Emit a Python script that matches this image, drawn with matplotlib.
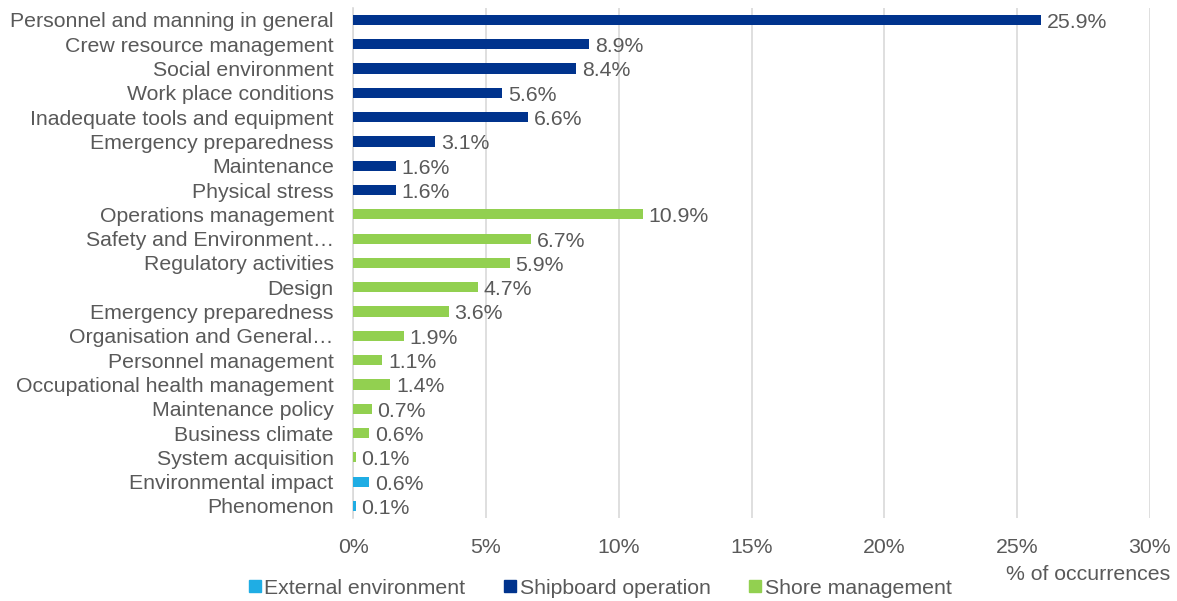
import matplotlib
matplotlib.use("Agg")
import matplotlib.pyplot as plt
from matplotlib.lines import Line2D

plt.rcParams['font.family'] = ['Liberation Sans', 'DejaVu Sans']

shipboard_labels = ["Personnel and manning in general", "Crew resource management",
                    "Social environment", "Work place conditions",
                    "Inadequate tools and equipment", "Emergency preparedness",
                    "Maintenance", "Physical stress"]
shipboard_values = [25.9, 8.9, 8.4, 5.6, 6.6, 3.1, 1.6, 1.6]

shore_labels = ["Operations management", "Safety and Environment\u2026",
                "Regulatory activities", "Design", "Emergency preparedness",
                "Organisation and General\u2026", "Personnel management",
                "Occupational health management", "Maintenance policy",
                "Business climate", "System acquisition"]
shore_values = [10.9, 6.7, 5.9, 4.7, 3.6, 1.9, 1.1, 1.4, 0.7, 0.6, 0.1]

external_labels = ["Environmental impact", "Phenomenon"]
external_values = [0.6, 0.1]

series_names = ["External environment", "Shipboard operation", "Shore management"]
colors = {"External environment": "#1FADE4",
          "Shipboard operation": "#00338D",
          "Shore management": "#92D050"}
xticks = [0, 5, 10, 15, 20, 25, 30]

text_color = "#595959"
fs = 15.3

fig = plt.figure(figsize=(11.77, 6.01), dpi=100)
ax = fig.add_axes([0.300, 0.138, 0.677, 0.849])

groups = [("Shipboard operation", shipboard_labels, shipboard_values),
          ("Shore management", shore_labels, shore_values),
          ("External environment", external_labels, external_values)]

all_labels = []
idx = 0
for name, labels, values in groups:
    pos = list(range(idx, idx + len(values)))
    ax.barh(pos, values, height=0.42, color=colors[name], zorder=3)
    for p, v in zip(pos, values):
        ax.text(v + 0.22, p + 0.1, f"{v:.1f}%", va="center", ha="left",
                fontsize=fs, color=text_color)
    all_labels += labels
    idx += len(values)

ax.set_yticks(range(len(all_labels)))
ax.set_yticklabels(all_labels, fontsize=fs, color=text_color)
ax.set_ylim(len(all_labels) - 0.5, -0.5)
ax.set_xlim(0, 30)
ax.set_xticks(xticks)
ax.set_xticklabels([f"{t}%" for t in xticks], fontsize=fs, color=text_color)
ax.tick_params(axis="y", length=0, pad=14)
ax.tick_params(axis="x", length=0, pad=14)
ax.grid(axis="x", color="#D9D9D9", linewidth=1.2, zorder=0)
for s in ["top", "right", "bottom"]:
    ax.spines[s].set_visible(False)
ax.spines["left"].set_color("#D9D9D9")
ax.spines["left"].set_linewidth(1.2)
ax.set_axisbelow(True)

fig.text(1170 / 1177, 1 - 575 / 601, "% of occurrences", ha="right", va="center",
         fontsize=fs, color=text_color)

handles = [Line2D([], [], marker="s", linestyle="none", markersize=9,
                  color=colors[n]) for n in series_names]
fig.legend(handles, series_names, loc="center", ncol=3,
           bbox_to_anchor=(599 / 1177, 1 - 588 / 601), frameon=False,
           fontsize=fs, labelcolor=text_color, handletextpad=0.05,
           columnspacing=1.7, handlelength=0.8)

fig.savefig("out.png", dpi=100)
